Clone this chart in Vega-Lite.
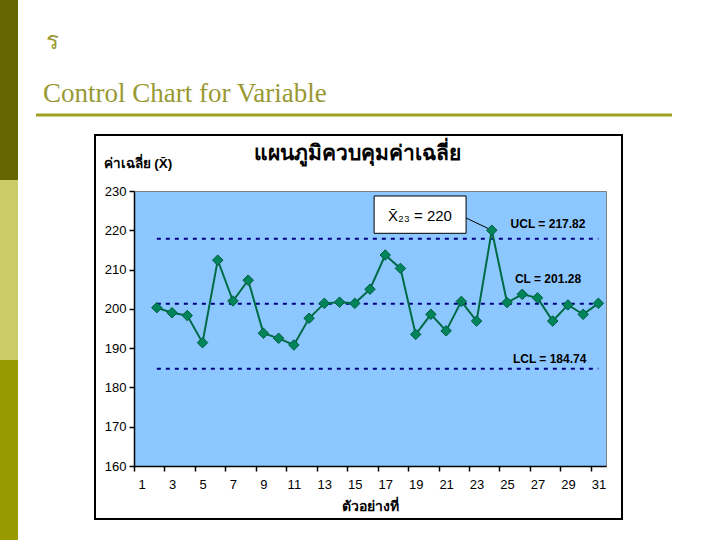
{
  "$schema": "https://vega.github.io/schema/vega-lite/v6.json",
  "width": 472,
  "height": 275,
  "autosize": {"type": "none"},
  "padding": {"left": 134, "top": 191, "right": 114, "bottom": 74},
  "background": "white",
  "view": {"fill": "#8CC8FF", "stroke": "#808080", "strokeWidth": 1},
  "config": {
    "font": "Liberation Sans",
    "axis": {"domainColor": "black", "tickColor": "black", "labelColor": "black", "titleColor": "black", "grid": false, "labelFont": "Liberation Sans", "titleFont": "Liberation Sans", "labelOverlap": false, "labelFlush": false}
  },
  "datasets": {
    "xbar": [
      {"category": 2, "xbar": 200.3}, {"category": 3, "xbar": 199.0}, {"category": 4, "xbar": 198.3},
      {"category": 5, "xbar": 191.4}, {"category": 6, "xbar": 212.4}, {"category": 7, "xbar": 202.0},
      {"category": 8, "xbar": 207.3}, {"category": 9, "xbar": 193.8}, {"category": 10, "xbar": 192.5},
      {"category": 11, "xbar": 190.8}, {"category": 12, "xbar": 197.6}, {"category": 13, "xbar": 201.4},
      {"category": 14, "xbar": 201.7}, {"category": 15, "xbar": 201.4}, {"category": 16, "xbar": 205.0},
      {"category": 17, "xbar": 213.7}, {"category": 18, "xbar": 210.3}, {"category": 19, "xbar": 193.5},
      {"category": 20, "xbar": 198.6}, {"category": 21, "xbar": 194.4}, {"category": 22, "xbar": 201.9},
      {"category": 23, "xbar": 196.9}, {"category": 24, "xbar": 220.0}, {"category": 25, "xbar": 201.6},
      {"category": 26, "xbar": 203.7}, {"category": 27, "xbar": 202.8}, {"category": 28, "xbar": 196.9},
      {"category": 29, "xbar": 201.0}, {"category": 30, "xbar": 198.6}, {"category": 31, "xbar": 201.4}
    ],
    "limits": [
      {"name": "UCL", "value": 217.82, "label": "UCL = 217.82"},
      {"name": "CL", "value": 201.28, "label": "CL = 201.28"},
      {"name": "LCL", "value": 184.74, "label": "LCL = 184.74"}
    ]
  },
  "layer": [
    {
      "data": {"name": "limits"},
      "mark": {"type": "rule", "color": "#000080", "strokeWidth": 2, "strokeDash": [4, 5]},
      "encoding": {
        "x": {"datum": 2, "type": "quantitative",
              "scale": {"domain": [0.5, 31.5], "nice": false, "zero": false},
              "axis": {"values": [1,3,5,7,9,11,13,15,17,19,21,23,25,27,29,31], "tickCount": 100, "format": "d", "labelOverlap": false, "labelFlush": false, "labelBound": false, "title": "ตัวอย่างที่", "titleFontSize": 14, "titleFontWeight": "bold", "titleBaseline": "alphabetic", "titleY": 44, "tickOffset": -7.6, "labelOffset": 7.6, "tickSize": 5, "tickWidth": 1.5, "labelFontSize": 13, "labelPadding": 7, "domainWidth": 1.5}},
        "x2": {"datum": 31},
        "y": {"field": "value", "type": "quantitative",
              "scale": {"domain": [160, 230], "nice": false, "zero": false},
              "axis": {"values": [160,170,180,190,200,210,220,230], "tickCount": 100, "format": "d", "labelOverlap": false, "labelFlush": false, "labelBound": false, "title": "ค่าเฉลี่ย (X̄)", "titleAngle": 0, "titleAlign": "left", "titleBaseline": "alphabetic", "titleX": -31, "titleY": -24, "titleFontSize": 13.5, "titleFontWeight": "bold", "tickSize": 5, "tickWidth": 1.5, "labelFontSize": 13, "labelPadding": 3, "domainWidth": 1.5}}
      }
    },
    {
      "data": {"values": [{}]},
      "mark": {"type": "rect", "color": "#666600"},
      "encoding": {
        "x": {"datum": -8.35, "type": "quantitative"}, "x2": {"datum": -7.119},
        "y": {"datum": 280, "type": "quantitative"}, "y2": {"datum": 232.8}
      }
    },
    {
      "data": {"values": [{}]},
      "mark": {"type": "rect", "color": "#CCCC66"},
      "encoding": {
        "x": {"datum": -8.35, "type": "quantitative"}, "x2": {"datum": -7.119},
        "y": {"datum": 232.8, "type": "quantitative"}, "y2": {"datum": 186.98}
      }
    },
    {
      "data": {"values": [{}]},
      "mark": {"type": "rect", "color": "#999900"},
      "encoding": {
        "x": {"datum": -8.35, "type": "quantitative"}, "x2": {"datum": -7.119},
        "y": {"datum": 186.98, "type": "quantitative"}, "y2": {"datum": 140}
      }
    },
    {
      "data": {"values": [{}]},
      "mark": {"type": "rect", "color": "#A0A020"},
      "encoding": {
        "x": {"datum": -5.936, "type": "quantitative"}, "x2": {"datum": 35.835},
        "y": {"datum": 249.73, "type": "quantitative"}, "y2": {"datum": 248.96}
      }
    },
    {
      "data": {"values": [{}]},
      "mark": {"type": "text", "text": "ร", "font": "Liberation Serif", "fontSize": 24, "color": "#999933", "align": "left", "baseline": "alphabetic"},
      "encoding": {
        "x": {"datum": -5.28, "type": "quantitative"},
        "y": {"datum": 266.15, "type": "quantitative"}
      }
    },
    {
      "data": {"values": [{}]},
      "mark": {"type": "text", "text": "Control Chart for Variable", "font": "Liberation Serif", "fontSize": 27, "color": "#999933", "align": "left", "baseline": "alphabetic"},
      "encoding": {
        "x": {"datum": -5.477, "type": "quantitative"},
        "y": {"datum": 252.65, "type": "quantitative"}
      }
    },
    {
      "data": {"values": [{}]},
      "mark": {"type": "rect", "filled": false, "color": "black", "strokeWidth": 2},
      "encoding": {
        "x": {"datum": -2.061, "type": "quantitative"}, "x2": {"datum": 32.551},
        "y": {"datum": 244.25, "type": "quantitative"}, "y2": {"datum": 146.51}
      }
    },
    {
      "data": {"values": [{}]},
      "mark": {"type": "text", "text": "แผนภูมิควบคุมค่าเฉลี่ย", "fontSize": 21, "fontWeight": "bold", "color": "black", "align": "center", "baseline": "alphabetic"},
      "encoding": {
        "x": {"datum": 15.21, "type": "quantitative"},
        "y": {"datum": 237.89, "type": "quantitative"}
      }
    },
    {
      "data": {"name": "xbar"},
      "mark": {"type": "line", "color": "#006B45", "strokeWidth": 2},
      "encoding": {
        "x": {"field": "category", "type": "quantitative"},
        "y": {"field": "xbar", "type": "quantitative"}
      }
    },
    {
      "data": {"values": [{}]},
      "mark": {"type": "rect", "fill": "white", "stroke": "black", "strokeWidth": 1},
      "encoding": {
        "x": {"datum": 16.27, "type": "quantitative"}, "x2": {"datum": 22.31},
        "y": {"datum": 228.73, "type": "quantitative"}, "y2": {"datum": 219.23}
      }
    },
    {
      "data": {"values": [{}]},
      "mark": {"type": "rule", "color": "black", "strokeWidth": 1},
      "encoding": {
        "x": {"datum": 22.31, "type": "quantitative"}, "x2": {"datum": 23.9},
        "y": {"datum": 223.13, "type": "quantitative"}, "y2": {"datum": 220.2}
      }
    },
    {
      "data": {"name": "xbar"},
      "mark": {"type": "point", "shape": "diamond", "filled": true, "size": 110, "fill": "#00855A", "stroke": "#005C3C", "strokeWidth": 1, "opacity": 1},
      "encoding": {
        "x": {"field": "category", "type": "quantitative"},
        "y": {"field": "xbar", "type": "quantitative"}
      }
    },
    {
      "data": {"values": [{}]},
      "mark": {"type": "text", "text": "X̄₂₃ = 220", "fontSize": 15, "color": "black", "align": "center", "baseline": "alphabetic"},
      "encoding": {
        "x": {"datum": 19.28, "type": "quantitative"},
        "y": {"datum": 222.36, "type": "quantitative"}
      }
    },
    {
      "data": {"name": "limits"},
      "transform": [{"filter": "datum.name === 'UCL'"}],
      "mark": {"type": "text", "fontSize": 12, "fontWeight": "bold", "color": "black", "align": "center", "baseline": "alphabetic", "dy": -11},
      "encoding": {
        "x": {"datum": 27.69, "type": "quantitative"},
        "y": {"field": "value", "type": "quantitative"},
        "text": {"field": "label"}
      }
    },
    {
      "data": {"name": "limits"},
      "transform": [{"filter": "datum.name === 'CL'"}],
      "mark": {"type": "text", "fontSize": 12, "fontWeight": "bold", "color": "black", "align": "center", "baseline": "alphabetic", "dy": -21},
      "encoding": {
        "x": {"datum": 27.69, "type": "quantitative"},
        "y": {"field": "value", "type": "quantitative"},
        "text": {"field": "label"}
      }
    },
    {
      "data": {"name": "limits"},
      "transform": [{"filter": "datum.name === 'LCL'"}],
      "mark": {"type": "text", "fontSize": 12, "fontWeight": "bold", "color": "black", "align": "center", "baseline": "alphabetic", "dy": -6},
      "encoding": {
        "x": {"datum": 27.8, "type": "quantitative"},
        "y": {"field": "value", "type": "quantitative"},
        "text": {"field": "label"}
      }
    }
  ]
}
